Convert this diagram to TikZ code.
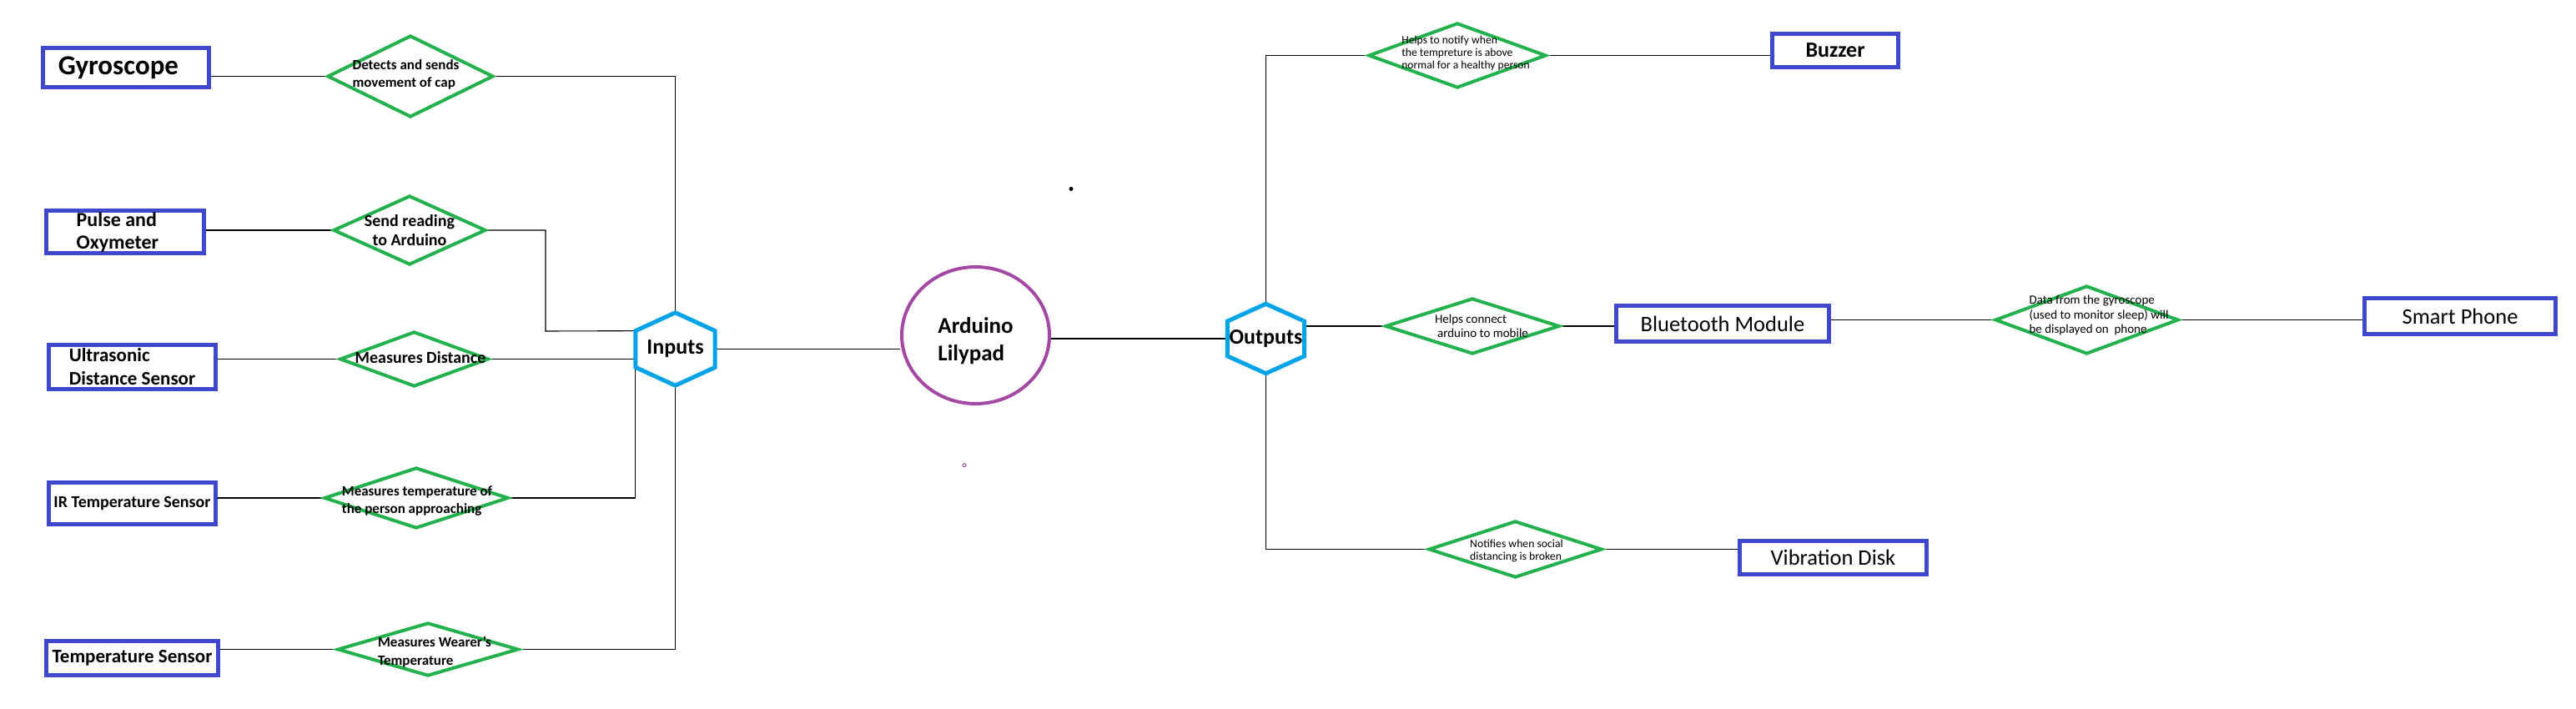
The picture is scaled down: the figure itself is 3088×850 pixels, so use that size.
\documentclass[tikz,border=0pt]{standalone}
\usepackage{fontspec}
\setmainfont{Carlito}
\usepackage{xcolor}
\usetikzlibrary{shapes,positioning,calc,backgrounds}
\definecolor{boxblue}{HTML}{3F48CC}
\definecolor{diagreen}{HTML}{22B14C}
\definecolor{hexcyan}{HTML}{00A2E8}
\definecolor{ardpurple}{HTML}{A349A4}

\begin{document}
\begin{tikzpicture}[
    x=1pt, y=-1pt,
    box/.style={rectangle, draw=boxblue, line width=4.5pt, inner sep=1pt, align=center},
    dia/.style={diamond, draw=diagreen, line width=4pt, inner sep=0pt},
    dlab/.style={inner sep=0pt, align=left},
    hub/.style={rectangle, inner sep=0pt, font=\fontsize{26}{30}\selectfont\bfseries},
    hexline/.style={draw=hexcyan, line width=5pt},
    link/.style={line width=1.1pt}
]
\useasboundingbox (0,0) rectangle (3088,850);

% sensors
\node[box, minimum width=199pt, minimum height=47pt, font=\fontsize{33}{38}\selectfont\bfseries] (gyro) at (151,81) {Gyroscope\rule{18pt}{0pt}};
\node[box, minimum width=189pt, minimum height=51pt, align=left, font=\fontsize{24}{27}\selectfont\bfseries] (pulse) at (150,278) {Pulse and\\Oxymeter\rule{18pt}{0pt}};
\node[box, minimum width=200pt, minimum height=53pt, align=left, font=\fontsize{23}{28}\selectfont\bfseries] (ultra) at (158.5,440) {Ultrasonic\\Distance Sensor};
\node[box, minimum width=200pt, minimum height=50pt, font=\fontsize{20}{24}\selectfont\bfseries] (irt) at (158.5,603.5) {IR Temperature Sensor};
\node[box, minimum width=206pt, minimum height=41pt, font=\fontsize{23}{27}\selectfont\bfseries] (temp) at (158.5,789) {Temperature Sensor};

\node[dia, minimum width=199pt, minimum height=98pt, label={[dlab, name=d1t, xshift=-5.5pt, yshift=2pt, font=\fontsize{17}{21}\selectfont\bfseries]center:{Detects and sends\\movement of cap}}] (d1) at (492,91.5) {};
\node[dia, minimum width=183pt, minimum height=83pt, label={[dlab, name=d2t, align=center, font=\fontsize{20}{23}\selectfont\bfseries]center:{Send reading\\to Arduino}}] (d2) at (491,276) {};
\node[dia, minimum width=178pt, minimum height=66pt, label={[dlab, name=d3t, xshift=7.5pt, yshift=2pt, font=\fontsize{20}{24}\selectfont\bfseries]center:{Measures Distance}}] (d3) at (496.5,430.5) {};
\node[dia, minimum width=221pt, minimum height=73pt, label={[dlab, name=d4t, xshift=1pt, yshift=-3.4pt, font=\fontsize{17}{21}\selectfont\bfseries]center:{Measures temperature of\\the person approaching}}] (d4) at (499,597) {};
\node[dia, minimum width=217pt, minimum height=64pt, label={[dlab, name=d5t, xshift=8pt, yshift=-3.3pt, font=\fontsize{17}{22}\selectfont\bfseries]center:{Measures Wearer's\\Temperature}}] (d5) at (513,778.5) {};

% controller
\node[hub, minimum width=95pt, minimum height=87pt] (inp) at (809.5,418.5) {Inputs};
\coordinate (inp-nw) at ($(inp.north west)!0.25!(inp.south west)$);
\coordinate (inp-sw) at ($(inp.north west)!0.75!(inp.south west)$);
\coordinate (inp-ne) at ($(inp.north east)!0.25!(inp.south east)$);
\coordinate (inp-se) at ($(inp.north east)!0.75!(inp.south east)$);
\draw[hexline] (inp.north) -- (inp-ne) -- (inp-se) -- (inp.south) -- (inp-sw) -- (inp-nw) -- cycle;

\node[ellipse, draw=ardpurple, line width=4pt, minimum width=177pt, minimum height=164pt, label={[dlab, name=ardt, yshift=-6.5pt, font=\fontsize{27}{33}\selectfont\bfseries]center:{Arduino\\Lilypad}}] (ard) at (1169.5,402) {};

\node[hub, minimum width=92pt, minimum height=83pt] (outp) at (1517.5,406) {Outputs};
\coordinate (outp-nw) at ($(outp.north west)!0.25!(outp.south west)$);
\coordinate (outp-sw) at ($(outp.north west)!0.75!(outp.south west)$);
\coordinate (outp-ne) at ($(outp.north east)!0.25!(outp.south east)$);
\coordinate (outp-se) at ($(outp.north east)!0.75!(outp.south east)$);
\draw[hexline] (outp.north) -- (outp-ne) -- (outp-se) -- (outp.south) -- (outp-sw) -- (outp-nw) -- cycle;

\node[circle, fill=black, inner sep=0pt, minimum size=5pt] (speck1) at (1284,226.5) {};
\node[circle, draw=ardpurple, line width=1pt, inner sep=0pt, minimum size=4pt] (speck2) at (1156,557.7) {};

% actuators
\node[dia, minimum width=213pt, minimum height=78pt, label={[dlab, name=d6t, xshift=10pt, yshift=3pt, font=\fontsize{13.6}{15}\selectfont]center:{Helps to notify when\\the tempreture is above\\normal for a healthy person}}] (d6) at (1747,66.5) {};
\node[dia, minimum width=209pt, minimum height=67pt, label={[dlab, name=d7t, xshift=11pt, font=\fontsize{15}{17.6}\selectfont]center:{Helps connect\\\hspace*{3pt}arduino to mobile}}] (d7) at (1765,391) {};
\node[dia, minimum width=220pt, minimum height=82pt, label={[dlab, name=d8t, xshift=14.5pt, yshift=5.5pt, font=\fontsize{15}{17.5}\selectfont]center:{Data from the gyroscope\\(used to monitor sleep) will\\be displayed on~~phone}}] (d8) at (2501.5,383.5) {};
\node[dia, minimum width=208pt, minimum height=68pt, label={[dlab, name=d9t, xshift=1.5pt, yshift=-1.5pt, font=\fontsize{13.7}{15}\selectfont]center:{Notifies when social\\distancing is broken}}] (d9) at (1816.5,658.5) {};

\node[box, minimum width=151pt, minimum height=40pt, font=\fontsize{26}{30}\selectfont\bfseries] (buzzer) at (2200,60.5) {Buzzer};
\node[box, minimum width=255pt, minimum height=43pt, font=\fontsize{26.5}{30}\selectfont] (bt) at (2065,388) {Bluetooth Module};
\node[box, minimum width=229pt, minimum height=43pt, font=\fontsize{26.5}{30}\selectfont] (phone) at (2949,379) {Smart Phone};
\node[box, minimum width=224pt, minimum height=40pt, font=\fontsize{26.5}{30}\selectfont] (vib) at (2197.5,668.5) {Vibration Disk};

\begin{scope}[on background layer]
\draw[link] (d1.west) -- (d1.west -| gyro.east);
\draw[link] (d1.east) -| (inp.north);
\draw[link] (d2.west) -- (d2.west -| pulse.east);
\coordinate (j2) at (654,397);
\draw[link] (d2.east) -| (j2) -- (inp-nw);
\draw[link] (d3.west) -- (d3.west -| ultra.east);
\draw[link] (d3.east) -- (d3.east -| inp.west);
\draw[link] (d4.west) -- (d4.west -| irt.east);
\draw[link] (d4.east) -| (inp-sw);
\draw[link] (d5.west) -- (d5.west -| temp.east);
\draw[link] (d5.east) -| (inp.south);
\draw[link] (inp.east) -- (inp.east -| ard.west);
\draw[link] (outp.west) -- (outp.west -| ard.east);
\draw[link] (outp.north) |- (d6.west);
\draw[link] (d6.east) -- (d6.east -| buzzer.west);
\draw[link] (d7.west) -- (d7.west -| outp.east);
\draw[link] (d7.east) -- (d7.east -| bt.west);
\draw[link] (d8.west) -- (d8.west -| bt.east);
\draw[link] (d8.east) -- (d8.east -| phone.west);
\draw[link] (outp.south) |- (d9.west);
\draw[link] (d9.east) -- (d9.east -| vib.west);
\end{scope}
\end{tikzpicture}
\end{document}
